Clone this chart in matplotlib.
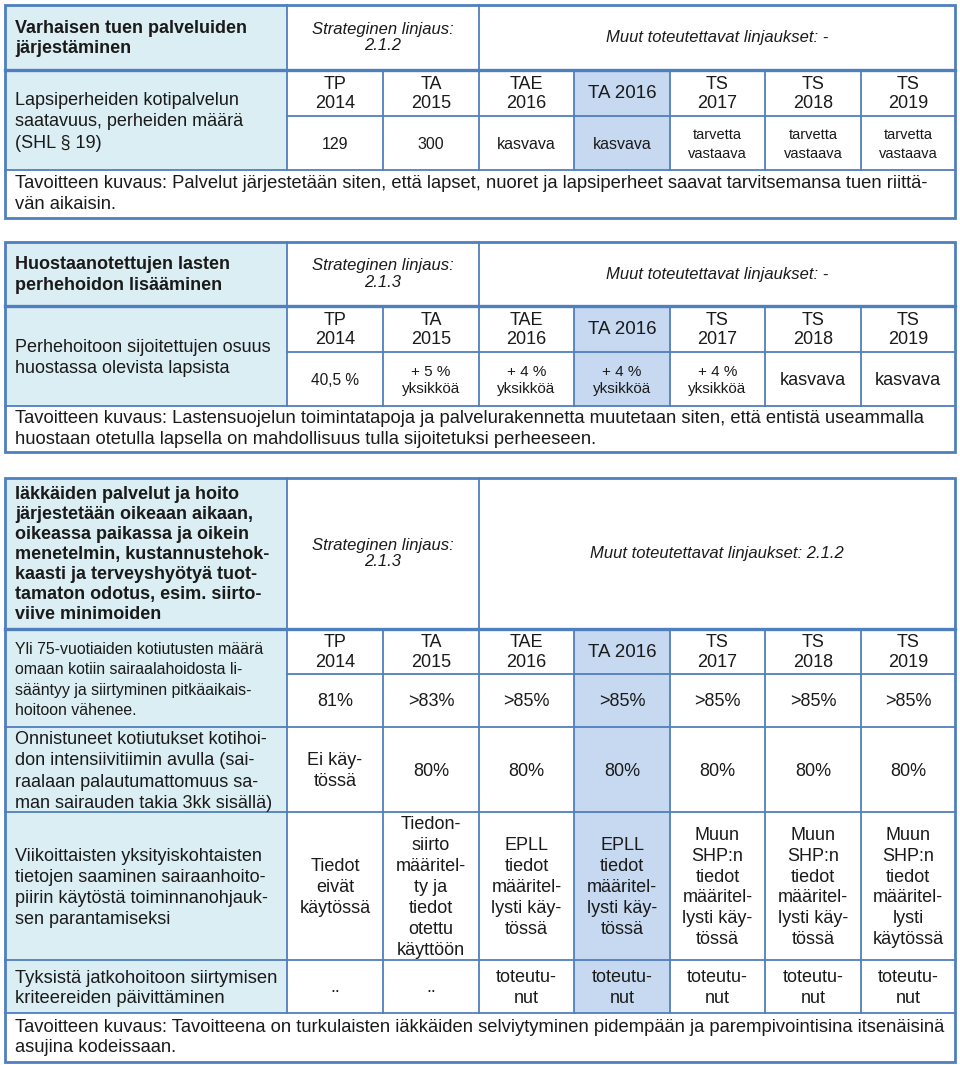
import matplotlib.pyplot as plt
from matplotlib.patches import Rectangle

# --- sisältö ---
years = ["TP\n2014", "TA\n2015", "TAE\n2016", "TA 2016", "TS\n2017", "TS\n2018", "TS\n2019"]

b1_title = "Varhaisen tuen palveluiden\njärjestäminen"
b1_strat = "Strateginen linjaus:\n2.1.2"
b1_muut = "Muut toteutettavat linjaukset: -"
b1_indicators = ["Lapsiperheiden kotipalvelun\nsaatavuus, perheiden määrä\n(SHL § 19)"]
b1_values = [["129", "300", "kasvava", "kasvava", "tarvetta\nvastaava", "tarvetta\nvastaava", "tarvetta\nvastaava"]]
b1_desc = ("Tavoitteen kuvaus: Palvelut järjestetään siten, että lapset, nuoret ja lapsiperheet saavat tarvitsemansa tuen riittä-\n"
           "vän aikaisin.")

b2_title = "Huostaanotettujen lasten\nperhehoidon lisääminen"
b2_strat = "Strateginen linjaus:\n2.1.3"
b2_muut = "Muut toteutettavat linjaukset: -"
b2_indicators = ["Perhehoitoon sijoitettujen osuus\nhuostassa olevista lapsista"]
b2_values = [["40,5 %", "+ 5 %\nyksikköä", "+ 4 %\nyksikköä", "+ 4 %\nyksikköä", "+ 4 %\nyksikköä", "kasvava", "kasvava"]]
b2_desc = ("Tavoitteen kuvaus: Lastensuojelun toimintatapoja ja palvelurakennetta muutetaan siten, että entistä useammalla\n"
           "huostaan otetulla lapsella on mahdollisuus tulla sijoitetuksi perheeseen.")

b3_title = ("Iäkkäiden palvelut ja hoito\njärjestetään oikeaan aikaan,\noikeassa paikassa ja oikein\n"
            "menetelmin, kustannustehok-\nkaasti ja terveyshyötyä tuot-\ntamaton odotus, esim. siirto-\nviive minimoiden")
b3_strat = "Strateginen linjaus:\n2.1.3"
b3_muut = "Muut toteutettavat linjaukset: 2.1.2"
b3_indicators = [
    "Yli 75-vuotiaiden kotiutusten määrä\nomaan kotiin sairaalahoidosta li-\nsääntyy ja siirtyminen pitkäaikais-\nhoitoon vähenee.",
    "Onnistuneet kotiutukset kotihoi-\ndon intensiivitiimin avulla (sai-\nraalaan palautumattomuus sa-\nman sairauden takia 3kk sisällä)",
    "Viikoittaisten yksityiskohtaisten\ntietojen saaminen sairaanhoito-\npiirin käytöstä toiminnanohjauk-\nsen parantamiseksi",
    "Tyksistä jatkohoitoon siirtymisen\nkriteereiden päivittäminen",
]
b3_values = [
    ["81%", ">83%", ">85%", ">85%", ">85%", ">85%", ">85%"],
    ["Ei käy-\ntössä", "80%", "80%", "80%", "80%", "80%", "80%"],
    ["Tiedot\neivät\nkäytössä", "Tiedon-\nsiirto\nmääritel-\nty ja\ntiedot\notettu\nkäyttöön",
     "EPLL\ntiedot\nmääritel-\nlysti käy-\ntössä", "EPLL\ntiedot\nmääritel-\nlysti käy-\ntössä",
     "Muun\nSHP:n\ntiedot\nmääritel-\nlysti käy-\ntössä", "Muun\nSHP:n\ntiedot\nmääritel-\nlysti käy-\ntössä",
     "Muun\nSHP:n\ntiedot\nmääritel-\nlysti\nkäytössä"],
    ["..", "..", "toteutu-\nnut", "toteutu-\nnut", "toteutu-\nnut", "toteutu-\nnut", "toteutu-\nnut"],
]
b3_desc = ("Tavoitteen kuvaus: Tavoitteena on turkulaisten iäkkäiden selviytyminen pidempään ja parempivointisina itsenäisinä\n"
           "asujina kodeissaan.")

# --- ulkoasu ---
plt.rcParams['font.family'] = ['Liberation Sans', 'DejaVu Sans']
BORDER = '#4f7fbf'
LIGHT = '#dbeef4'
HILITE = '#c6d9f1'
TXT = '#1a1a1a'
cols = [5, 287, 383, 479, 574, 670, 765, 861, 955]
HI_COL = 3  # TA 2016

fig = plt.figure(figsize=(9.6, 10.65), dpi=100)
ax = fig.add_axes([0, 0, 1, 1])
ax.set_xlim(0, 960)
ax.set_ylim(1065, 0)
ax.axis('off')


def hline(y, x0, x1, lw=1.3):
    ax.plot([x0, x1], [y, y], color=BORDER, lw=lw, solid_capstyle='projecting')


def vline(x, y0, y1, lw=1.3):
    ax.plot([x, x], [y0, y1], color=BORDER, lw=lw, solid_capstyle='projecting')


def draw_block(top, hdr, rows, bottom, title, title_ls, strat, muut, indicators, values, desc,
               ind_style, val_style):
    # rows: alarajat; rows[0] = vuosirivin alareuna, sitten arvorivit
    last = rows[-1]
    ax.add_patch(Rectangle((cols[0], top), cols[1] - cols[0], last - top, color=LIGHT, lw=0))
    ax.add_patch(Rectangle((cols[HI_COL + 1], hdr), cols[HI_COL + 2] - cols[HI_COL + 1], last - hdr,
                           color=HILITE, lw=0))

    # otsikkorivi
    ax.text(15, (top + hdr) / 2 + 1, title, ha='left', va='center', fontsize=13, fontweight='bold',
            color=TXT, linespacing=title_ls)
    ax.text((cols[1] + cols[3]) / 2, (top + hdr) / 2, strat, ha='center', va='center', fontsize=12,
            style='italic', color=TXT, linespacing=1.1)
    ax.text((cols[3] + cols[-1]) / 2, (top + hdr) / 2, muut, ha='center', va='center', fontsize=12,
            style='italic', color=TXT)

    # vuodet
    for i, lab in enumerate(years):
        cx = (cols[i + 1] + cols[i + 2]) / 2
        ax.text(cx, (hdr + rows[0]) / 2 + 1, lab, ha='center', va='center',
                fontsize=13.5 if i == HI_COL else 13, color=TXT, linespacing=1.22)

    # indikaattorit ja arvot
    edges = [hdr] + rows[1:]
    for r, ind in enumerate(indicators):
        y0, y1 = edges[r], edges[r + 1]
        fs, ls = ind_style[r]
        ax.text(15, (y0 + y1) / 2 + 2, ind, ha='left', va='center', fontsize=fs, color=TXT,
                linespacing=ls)
        vy0 = rows[r]
        for i, val in enumerate(values[r]):
            cx = (cols[i + 1] + cols[i + 2]) / 2
            vfs, vls = val_style[r][i]
            ax.text(cx, (vy0 + rows[r + 1]) / 2 + 1.5, val, ha='center', va='center',
                    fontsize=vfs, color=TXT, linespacing=vls)

    # viivat
    for x in cols[2:-1]:
        vline(x, hdr, last)
    vline(cols[1], top, last)
    vline(cols[3], top, hdr)
    hline(rows[0], cols[1], cols[-1])
    for y in rows[1:-1]:
        hline(y, cols[0], cols[-1])
    hline(hdr, cols[0], cols[-1], lw=2.4)
    hline(last, cols[0], cols[-1])
    ax.add_patch(Rectangle((cols[0], top), cols[-1] - cols[0], bottom - top, fill=False,
                           edgecolor=BORDER, lw=2.0))
    ax.text(15, (last + bottom) / 2, desc, ha='left', va='center', fontsize=13.2,
            color=TXT, linespacing=1.3)


s_small = (10.5, 1.45)
s_num = (11.5, 1.2)
draw_block(5, 70, [116, 170], 218, b1_title, 1.3, b1_strat, b1_muut, b1_indicators, b1_values, b1_desc,
           [(13, 1.33)],
           [[s_num, s_num, s_num, s_num, s_small, s_small, s_small]])

s_yks = (11, 1.22)
s_kas = (13, 1.2)
draw_block(242, 306, [352, 406], 452, b2_title, 1.3, b2_strat, b2_muut, b2_indicators, b2_values, b2_desc,
           [(13, 1.26)],
           [[(11.2, 1.2), s_yks, s_yks, s_yks, s_yks, s_kas, s_kas]])

s3 = (13, 1.3)
draw_block(478, 629, [674, 727, 812, 960, 1013], 1062, b3_title, 1.22, b3_strat, b3_muut, b3_indicators,
           b3_values, b3_desc,
           [(11.4, 1.43), (13, 1.32), (13, 1.32), (13.2, 1.26)],
           [[s3] * 7, [s3] * 7, [s3] * 7, [s3] * 7])

fig.savefig('out.png', dpi=100)
